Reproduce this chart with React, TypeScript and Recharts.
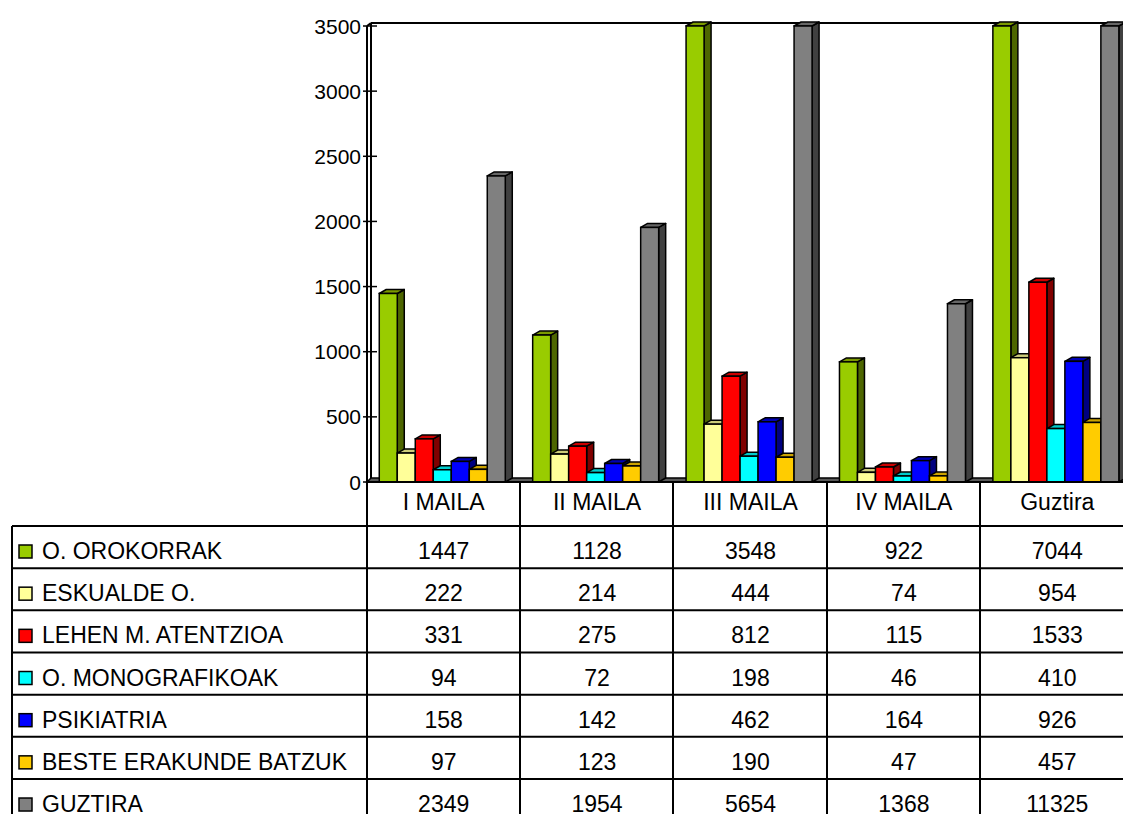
import React from 'react';
import { BarChart, Bar, XAxis, YAxis } from 'recharts';

const CATEGORIES = ['I MAILA', 'II MAILA', 'III MAILA', 'IV MAILA', 'Guztira'];
const SERIES_NAMES = [
  'O. OROKORRAK',
  'ESKUALDE O.',
  'LEHEN M. ATENTZIOA',
  'O. MONOGRAFIKOAK',
  'PSIKIATRIA',
  'BESTE ERAKUNDE BATZUK',
  'GUZTIRA',
];
const O_OROKORRAK = [1447, 1128, 3548, 922, 7044];
const ESKUALDE_O = [222, 214, 444, 74, 954];
const LEHEN_M_ATENTZIOA = [331, 275, 812, 115, 1533];
const O_MONOGRAFIKOAK = [94, 72, 198, 46, 410];
const PSIKIATRIA = [158, 142, 462, 164, 926];
const BESTE_ERAKUNDE = [97, 123, 190, 47, 457];
const GUZTIRA = [2349, 1954, 5654, 1368, 11325];
const SERIES_VALUES = [O_OROKORRAK, ESKUALDE_O, LEHEN_M_ATENTZIOA, O_MONOGRAFIKOAK, PSIKIATRIA, BESTE_ERAKUNDE, GUZTIRA];
const Y_TICKS = [0, 500, 1000, 1500, 2000, 2500, 3000, 3500];
const AXIS_MAX = 3500;

// colours: [front, top, side]
const COLORS = [
  ['#99CC00', '#7A9900', '#4D6600'],
  ['#FFFF99', '#CCCC7A', '#80804D'],
  ['#FF0000', '#CC0000', '#800000'],
  ['#00FFFF', '#00CCCC', '#008080'],
  ['#0000FF', '#0000B3', '#000080'],
  ['#FFCC00', '#CCA300', '#806600'],
  ['#808080', '#666666', '#404040'],
];

const data = CATEGORIES.map((name, i) => {
  const row: any = { name };
  SERIES_VALUES.forEach((vals, s) => {
    row['s' + s] = vals[i];
  });
  return row;
});

const FONT = '"Liberation Sans", Arial, sans-serif';
const DX = 7;
const DY = 4;

const Bar3D = (props: any) => {
  const { x, y, width, height, colors } = props;
  if (width == null || height == null || isNaN(y)) return null;
  const [front, top, side] = colors;
  const sw = 1.5;
  return (
    <g>
      <polygon
        points={`${x + width},${y} ${x + width + DX},${y - DY} ${x + width + DX},${y + height - DY} ${x + width},${y + height}`}
        fill={side}
        stroke="#000"
        strokeWidth={sw}
        strokeLinejoin="round"
      />
      <polygon
        points={`${x},${y} ${x + DX},${y - DY} ${x + width + DX},${y - DY} ${x + width},${y}`}
        fill={top}
        stroke="#000"
        strokeWidth={sw}
        strokeLinejoin="round"
      />
      <rect x={x} y={y} width={width} height={height} fill={front} stroke="#000" strokeWidth={sw} />
    </g>
  );
};

const HEADER_TOP = 482;
const ROW_TOP0 = 526;
const ROW_H = 42.17;
const COL_LINES = [367, 520, 673, 827, 980];

const YTick = (props: any) => {
  const { x, y, payload } = props;
  return (
    <g>
      <line x1={363} x2={377} y1={y} y2={y} stroke="#000" strokeWidth={1.5} />
      <text x={361} y={y + 7.5} textAnchor="end" fontSize={21} fontFamily={FONT} fill="#000">
        {payload.value}
      </text>
    </g>
  );
};

const XTick = (props: any) => {
  const { x, payload, index } = props;
  return (
    <g>
      <text x={x} y={HEADER_TOP + 28} textAnchor="middle" fontSize={23} fontFamily={FONT} fill="#000">
        {payload.value}
      </text>
      {SERIES_VALUES.map((vals, s) => (
        <text
          key={s}
          x={x}
          y={ROW_TOP0 + s * ROW_H + 33}
          textAnchor="middle"
          fontSize={23}
          fontFamily={FONT}
          fill="#000"
        >
          {vals[index]}
        </text>
      ))}
    </g>
  );
};

export default function App() {
  const rowLines = [];
  for (let i = 0; i <= SERIES_NAMES.length; i++) rowLines.push(ROW_TOP0 + i * ROW_H);
  return (
    <div
      style={{
        position: 'absolute',
        left: 0,
        top: 0,
        width: 1123,
        height: 814,
        overflow: 'hidden',
        background: '#fff',
        fontFamily: FONT,
      }}
    >
      <svg width={1140} height={814} style={{ position: 'absolute', left: 0, top: 0 }}>
        {/* floor slab */}
        <polygon points="367,482 1134,482 1140,478 371,478" fill="#595959" stroke="#000" strokeWidth={1.5} />
        {/* back wall top */}
        <line x1={371} x2={1140} y1={23} y2={23} stroke="#000" strokeWidth={2} />
        {/* left wall */}
        <line x1={371} x2={371} y1={23} y2={478} stroke="#000" strokeWidth={2} />
        <line x1={367} x2={367} y1={26} y2={482} stroke="#000" strokeWidth={2} />
        <line x1={367} x2={371} y1={26} y2={23} stroke="#000" strokeWidth={2} />
      </svg>
      <div style={{ position: 'absolute', left: 0, top: 0 }}>
        <BarChart
          width={1140}
          height={814}
          data={data}
          margin={{ top: 26, right: 6, left: 307, bottom: 0 }}
          barCategoryGap="8%"
          barGap={0}
        >
          <XAxis
            dataKey="name"
            axisLine={false}
            tickLine={false}
            interval={0}
            height={332}
            tick={<XTick />}
          />
          <YAxis
            domain={[0, AXIS_MAX]}
            ticks={Y_TICKS}
            width={60}
            axisLine={false}
            tickLine={false}
            tick={<YTick />}
          />
          {SERIES_NAMES.map((name, s) => (
            <Bar
              key={name}
              name={name}
              dataKey={(d: any) => Math.min(d['s' + s], AXIS_MAX)}
              fill={COLORS[s][0]}
              isAnimationActive={false}
              shape={(p: any) => <Bar3D {...p} colors={COLORS[s]} />}
            />
          ))}
        </BarChart>
      </div>
      <svg width={1123} height={814} style={{ position: 'absolute', left: 0, top: 0, pointerEvents: 'none' }}>
        <line x1={367} x2={1123} y1={HEADER_TOP} y2={HEADER_TOP} stroke="#000" strokeWidth={2} />
        {rowLines.map((y, i) => (
          <line key={'h' + i} x1={12} x2={1123} y1={y} y2={y} stroke="#000" strokeWidth={2} />
        ))}
        <line x1={12} x2={12} y1={ROW_TOP0} y2={814} stroke="#000" strokeWidth={2} />
        {COL_LINES.map((x, i) => (
          <line key={'v' + i} x1={x} x2={x} y1={HEADER_TOP} y2={814} stroke="#000" strokeWidth={2} />
        ))}
        {SERIES_NAMES.map((name, s) => {
          const top = ROW_TOP0 + s * ROW_H;
          return (
            <g key={name}>
              <rect x={19} y={top + 19} width={13} height={13} fill={COLORS[s][0]} stroke="#000" strokeWidth={1.5} />
              <text x={42} y={top + 33} fontSize={23} fontFamily={FONT} fill="#000">
                {name}
              </text>
            </g>
          );
        })}
      </svg>
    </div>
  );
}
